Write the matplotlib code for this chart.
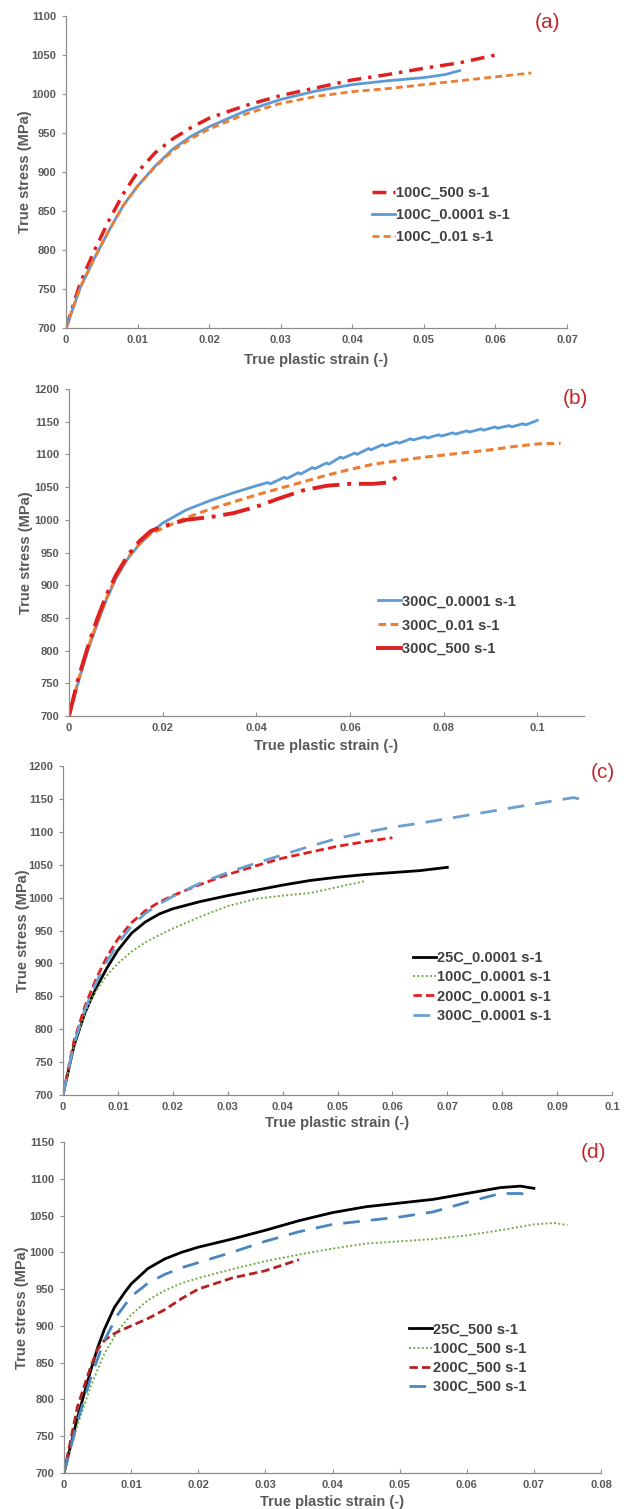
import numpy as np
import matplotlib
matplotlib.use('Agg')
from matplotlib import pyplot as plt

plt.rcParams['font.family'] = ['Liberation Sans', 'DejaVu Sans']
plt.rcParams['font.weight'] = 'bold'

# ---- panel (a): 100C, different strain rates
a_500_x = [0, 0.002, 0.004, 0.006, 0.008, 0.01, 0.0125, 0.015, 0.0175, 0.02, 0.025, 0.03, 0.035, 0.04, 0.045, 0.05, 0.055, 0.06]
a_500_y = [700, 758, 800, 838, 872, 900, 925, 943, 957, 969, 985, 998, 1008, 1018, 1025, 1033, 1040, 1050]
a_slow_x = [0, 0.002, 0.004, 0.006, 0.008, 0.01, 0.0125, 0.015, 0.0175, 0.02, 0.025, 0.03, 0.035, 0.04, 0.045, 0.05, 0.053, 0.055]
a_slow_y = [700, 752, 790, 825, 857, 882, 908, 930, 946, 958, 978, 993, 1004, 1012, 1017, 1021, 1025, 1030]
a_mid_x = [0, 0.002, 0.004, 0.006, 0.008, 0.01, 0.0125, 0.015, 0.0175, 0.02, 0.025, 0.03, 0.035, 0.04, 0.045, 0.05, 0.055, 0.06, 0.065]
a_mid_y = [700, 752, 790, 825, 857, 882, 907, 928, 943, 955, 974, 988, 997, 1003, 1007, 1012, 1017, 1022, 1027]

# ---- panel (b): 300C, different strain rates
b_slow_x = [0, 0.002, 0.004, 0.006, 0.008, 0.01, 0.0125, 0.015, 0.0175, 0.02, 0.025, 0.03, 0.035, 0.04,
            0.0425, 0.043, 0.046, 0.0465, 0.049, 0.0495, 0.052, 0.0525, 0.055, 0.0555, 0.058, 0.0585, 0.061, 0.0615,
            0.064, 0.0645, 0.067, 0.0675, 0.07, 0.0705, 0.073, 0.0735, 0.076, 0.0765, 0.079, 0.0795, 0.082, 0.0825,
            0.085, 0.0855, 0.088, 0.0885, 0.091, 0.0915, 0.094, 0.0945, 0.097, 0.0975, 0.1]
b_slow_y = [700, 752, 800, 840, 878, 910, 940, 962, 980, 995, 1015, 1029, 1041, 1052,
            1057, 1055, 1065, 1063, 1072, 1070, 1080, 1078, 1087, 1085, 1096, 1094, 1102, 1100,
            1109, 1107, 1115, 1113, 1119, 1117, 1124, 1122, 1127, 1125, 1130, 1128, 1133, 1131,
            1136, 1134, 1139, 1137, 1142, 1140, 1144, 1142, 1147, 1145, 1152]
b_mid_x = [0, 0.002, 0.004, 0.006, 0.008, 0.01, 0.0125, 0.015, 0.0175, 0.02, 0.025, 0.03, 0.035, 0.04, 0.045, 0.05, 0.055,
           0.06, 0.065, 0.07, 0.075, 0.08, 0.085, 0.09, 0.095, 0.1, 0.105]
b_mid_y = [700, 755, 803, 843, 880, 912, 942, 963, 979, 987, 1003, 1016, 1027, 1038, 1048, 1058, 1068,
           1077, 1085, 1090, 1095, 1099, 1103, 1107, 1112, 1116, 1117]
b_500_x = [0, 0.002, 0.004, 0.006, 0.008, 0.01, 0.0125, 0.015, 0.0175, 0.02, 0.025, 0.03, 0.035, 0.04, 0.045, 0.05, 0.055,
           0.06, 0.065, 0.068, 0.07]
b_500_y = [700, 758, 805, 848, 885, 915, 945, 967, 983, 990, 1000, 1004, 1010, 1020, 1033, 1045, 1052,
           1055, 1055, 1057, 1065]

# ---- panel (c): 0.0001 s-1, different temperatures
c_25_x = [0, 0.002, 0.004, 0.006, 0.008, 0.01, 0.0125, 0.015, 0.0175, 0.02, 0.025, 0.03, 0.035, 0.04, 0.045, 0.05, 0.055, 0.06, 0.065, 0.07]
c_25_y = [700, 775, 825, 862, 893, 920, 946, 963, 975, 983, 994, 1003, 1011, 1019, 1026, 1031, 1035, 1038, 1041, 1046]
c_100_x = [0, 0.002, 0.004, 0.006, 0.008, 0.01, 0.0125, 0.015, 0.0175, 0.02, 0.025, 0.03, 0.035, 0.04, 0.045, 0.05, 0.055]
c_100_y = [700, 775, 825, 858, 882, 900, 918, 932, 943, 953, 971, 987, 998, 1003, 1007, 1016, 1025]
c_200_x = [0, 0.002, 0.004, 0.006, 0.008, 0.01, 0.0125, 0.015, 0.0175, 0.02, 0.025, 0.03, 0.035, 0.04, 0.045, 0.05, 0.055, 0.06]
c_200_y = [700, 782, 835, 876, 910, 937, 962, 980, 993, 1003, 1020, 1035, 1048, 1060, 1069, 1078, 1085, 1091]
c_300_x = [0, 0.002, 0.004, 0.006, 0.008, 0.01, 0.0125, 0.015, 0.0175, 0.02, 0.025, 0.03, 0.035, 0.04, 0.045, 0.05, 0.055,
           0.06, 0.065, 0.07, 0.075, 0.08, 0.085, 0.09, 0.093, 0.095]
c_300_y = [700, 778, 830, 870, 903, 930, 957, 976, 990, 1002, 1022, 1038, 1052, 1065, 1078, 1090, 1099,
           1107, 1113, 1120, 1127, 1134, 1141, 1148, 1152, 1148]

# ---- panel (d): 500 s-1, different temperatures
d_25_x = [0, 0.002, 0.004, 0.005, 0.006, 0.0075, 0.009, 0.01, 0.0125, 0.015, 0.0175, 0.02, 0.025, 0.03, 0.035, 0.04, 0.045,
          0.05, 0.055, 0.06, 0.065, 0.068, 0.07]
d_25_y = [700, 775, 840, 870, 895, 925, 945, 957, 978, 991, 1000, 1007, 1018, 1030, 1043, 1054, 1062,
          1067, 1072, 1080, 1088, 1090, 1087]
d_100_x = [0, 0.002, 0.004, 0.006, 0.008, 0.01, 0.0125, 0.015, 0.0175, 0.02, 0.025, 0.03, 0.035, 0.04, 0.045, 0.05, 0.055,
           0.06, 0.065, 0.07, 0.073, 0.075]
d_100_y = [700, 765, 818, 862, 893, 915, 935, 948, 958, 965, 977, 988, 997, 1005, 1012, 1015, 1018,
           1023, 1030, 1038, 1040, 1037]
d_200_x = [0, 0.002, 0.004, 0.005, 0.006, 0.007, 0.008, 0.01, 0.0125, 0.015, 0.0175, 0.02, 0.025, 0.03, 0.035]
d_200_y = [700, 790, 845, 868, 880, 887, 892, 900, 910, 922, 937, 950, 965, 975, 990]
d_300_x = [0, 0.002, 0.004, 0.006, 0.008, 0.01, 0.0125, 0.015, 0.0175, 0.02, 0.025, 0.03, 0.035, 0.04, 0.045, 0.05, 0.055,
           0.06, 0.065, 0.068, 0.07]
d_300_y = [700, 770, 830, 880, 915, 940, 958, 970, 979, 986, 1000, 1015, 1028, 1038, 1043, 1048, 1055,
           1068, 1080, 1080, 1077]

W, H = 624, 1509
fig = plt.figure(figsize=(W / 100, H / 100), dpi=100)

GRAY = '#595959'
SPINE = '#8c8c8c'
PANEL_RED = '#c0282d'


def px_axes(l, r, t, b):
    # pixel box -> figure axes
    return fig.add_axes([l / W, 1 - b / H, (r - l) / W, (b - t) / H])


def style(ax, xlim, xticks, xfmt, ylim, yticks):
    ax.set_xlim(xlim)
    ax.set_ylim(ylim)
    ax.set_xticks(xticks)
    ax.set_xticklabels(xfmt)
    ax.set_yticks(yticks)
    for s in ['top', 'right']:
        ax.spines[s].set_visible(False)
    for s in ['left', 'bottom']:
        ax.spines[s].set_color(SPINE)
        ax.spines[s].set_linewidth(0.9)
    ax.tick_params(axis='y', direction='out', length=3, width=0.8, color=SPINE,
                   labelsize=8, labelcolor=GRAY, pad=4)
    ax.tick_params(axis='x', direction='in', length=3, width=0.8, color=SPINE,
                   labelsize=8, labelcolor=GRAY, pad=5)
    for lab in ax.get_xticklabels() + ax.get_yticklabels():
        lab.set_fontweight('bold')
    ax.set_xlabel('True plastic strain (-)', fontsize=10.5, color=GRAY, fontweight='bold')
    ax.set_ylabel('True stress (MPa)', fontsize=10.5, color=GRAY, fontweight='bold')


def legend(ax, x, y, spacing):
    leg = ax.legend(loc='upper left', bbox_to_anchor=(x, y), frameon=False, handlelength=1.6,
                    handletextpad=0.05, borderpad=0, borderaxespad=0, labelspacing=spacing,
                    prop={'size': 10.5, 'weight': 'bold'})
    for t in leg.get_texts():
        t.set_color('#404040')
    return leg


# (a)
ax = px_axes(66, 567, 16, 328)
ax.plot(a_500_x, a_500_y, color='#e02020', lw=2.5, ls=(0, (4, 2, 1, 2)), label='100C_500 s-1')
ax.plot(a_slow_x, a_slow_y, color='#5b9bd5', lw=2.0, label='100C_0.0001 s-1')
ax.plot(a_mid_x, a_mid_y, color='#ed7d31', lw=2.0, ls=(0, (2.5, 1.5)), label='100C_0.01 s-1')
style(ax, (0, 0.07), np.arange(0, 0.071, 0.01), ['0', '0.01', '0.02', '0.03', '0.04', '0.05', '0.06', '0.07'],
      (700, 1100), range(700, 1101, 50))
ax.xaxis.set_label_coords(0.5, -0.08)
ax.yaxis.set_label_coords(-0.068, 0.5)
legend(ax, 0.61, 0.455, 0.54)
fig.text(548 / W, 1 - 22 / H, '(a)', color=PANEL_RED, fontsize=15, fontweight='normal', ha='center', va='center')

# (b)
ax = px_axes(69, 584, 389, 716)
ax.plot(b_slow_x, b_slow_y, color='#5b9bd5', lw=2.0, label='300C_0.0001 s-1')
ax.plot(b_mid_x, b_mid_y, color='#ed7d31', lw=2.2, ls=(0, (2.5, 1.5)), label='300C_0.01 s-1')
ax.plot(b_500_x, b_500_y, color='#e02020', lw=2.8, ls=(0, (7, 2, 1, 2)), label='300C_500 s-1')
style(ax, (0, 0.11), np.arange(0, 0.101, 0.02), ['0', '0.02', '0.04', '0.06', '0.08', '0.1'],
      (700, 1200), range(700, 1201, 50))
ax.xaxis.set_label_coords(0.5, -0.07)
ax.yaxis.set_label_coords(-0.07, 0.5)
leg = legend(ax, 0.60, 0.372, 0.68)
leg.get_lines()[2].set_linestyle('-')
fig.text(575 / W, 1 - 398 / H, '(b)', color=PANEL_RED, fontsize=15, fontweight='normal', ha='center', va='center')

# (c)
ax = px_axes(63, 612, 766, 1095)
ax.plot(c_25_x, c_25_y, color='black', lw=2.0, label='25C_0.0001 s-1')
ax.plot(c_100_x, c_100_y, color='#70ad47', lw=1.4, ls=(0, (1, 1.2)), label='100C_0.0001 s-1')
ax.plot(c_200_x, c_200_y, color='#e02020', lw=2.0, ls=(0, (3, 1.5)), label='200C_0.0001 s-1')
ax.plot(c_300_x, c_300_y, color='#6a9fd0', lw=2.0, ls=(0, (6, 4)), label='300C_0.0001 s-1')
style(ax, (0, 0.1), np.arange(0, 0.101, 0.01),
      ['0', '0.01', '0.02', '0.03', '0.04', '0.05', '0.06', '0.07', '0.08', '0.09', '0.1'],
      (700, 1200), range(700, 1201, 50))
ax.xaxis.set_label_coords(0.5, -0.065)
ax.yaxis.set_label_coords(-0.06, 0.5)
legend(ax, 0.637, 0.438, 0.36)
fig.text(603 / W, 1 - 772 / H, '(c)', color=PANEL_RED, fontsize=15, fontweight='normal', ha='center', va='center')

# (d)
ax = px_axes(64, 601, 1142, 1473)
ax.plot(d_25_x, d_25_y, color='black', lw=2.0, label='25C_500 s-1')
ax.plot(d_100_x, d_100_y, color='#70ad47', lw=1.4, ls=(0, (1, 1.2)), label='100C_500 s-1')
ax.plot(d_200_x, d_200_y, color='#b22222', lw=2.0, ls=(0, (3, 1.5)), label='200C_500 s-1')
ax.plot(d_300_x, d_300_y, color='#4a86c0', lw=2.0, ls=(0, (6, 4)), label='300C_500 s-1')
style(ax, (0, 0.08), np.arange(0, 0.081, 0.01),
      ['0', '0.01', '0.02', '0.03', '0.04', '0.05', '0.06', '0.07', '0.08'],
      (700, 1150), range(700, 1151, 50))
ax.xaxis.set_label_coords(0.5, -0.065)
ax.yaxis.set_label_coords(-0.065, 0.5)
legend(ax, 0.642, 0.455, 0.36)
fig.text(593 / W, 1 - 1153 / H, '(d)', color=PANEL_RED, fontsize=15, fontweight='normal', ha='center', va='center')

fig.savefig('out.png', dpi=100)
